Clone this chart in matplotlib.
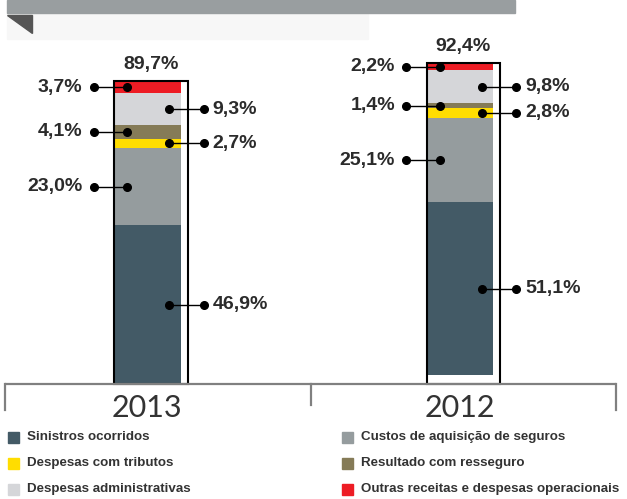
import numpy as np
import matplotlib
matplotlib.use("Agg")
import matplotlib.pyplot as plt
from matplotlib.patches import Rectangle, Polygon

# data (percent of revenue)
years = ["2013", "2012"]
categories = ["Sinistros ocorridos", "Custos de aquisição de seguros", "Despesas com tributos",
              "Resultado com resseguro", "Despesas administrativas",
              "Outras receitas e despesas operacionais"]
vals_2013 = [46.9, 23.0, 2.7, 4.1, 9.3, 3.7]
vals_2012 = [51.1, 25.1, 2.8, 1.4, 9.8, 2.2]
totals = ["89,7%", "92,4%"]

colors = ["#435a66", "#959c9e", "#ffdd00", "#857b57", "#d5d6d9", "#ed1c24"]
sides = ["right", "left", "right", "left", "right", "left"]

W, H = 627, 499
fig = plt.figure(figsize=(W / 100, H / 100), dpi=100)
ax = fig.add_axes([0, 0, 1, 1])
ax.set_axis_off()

# pixel -> data helpers (x: 305.5 px per group, y: 3.38 px per %)
def px(p):
    return (p - 158) / 305.5
def py(p):
    return (384 - p) / 3.38

ax.set_xlim(px(0), px(W))
ax.set_ylim(py(H), py(0))

x_pos = [-0.023, 1.0]
base = [0, 2.6]
frame_w = 0.242
fill_w = 0.216
lab_font = dict(family="Liberation Sans", weight="bold", size=14, color="#2b2b2b")

for i, vals in enumerate([vals_2013, vals_2012]):
    left = x_pos[i] - frame_w / 2
    bottoms = base[i] + np.concatenate([[0], np.cumsum(vals)[:-1]])
    ax.bar(left + 0.003, vals, width=fill_w, bottom=bottoms, align="edge",
           color=colors, linewidth=0, zorder=2)
    top = base[i] + sum(vals)
    ax.bar(x_pos[i], top, width=frame_w, fill=False, edgecolor="black",
           linewidth=1.5, zorder=3)
    ax.text(x_pos[i], top + 3.6, totals[i], ha="center", va="baseline", **lab_font)

    # callouts
    for v, b, side in zip(vals, bottoms, sides):
        y = b + v / 2
        if side == "left":
            x_in, x_out = left + 0.043, left - 0.066
            tx, ha = x_out - 0.037, "right"
        else:
            x_in, x_out = left + 0.18, left + frame_w + 0.052
            tx, ha = x_out + 0.028, "left"
        ax.plot([x_in, x_out], [y, y], color="black", lw=1, zorder=4)
        ax.plot([x_in, x_out], [y, y], "o", color="black", ms=5.5, zorder=5)
        ax.text(tx, y, f"{v:.1f}%".replace(".", ","), ha=ha, va="center", **lab_font)

# bottom axis with group ticks
ax.plot([px(5), px(616)], [0, 0], color="#808080", lw=1.6, zorder=6, solid_capstyle="butt")
for p, d in [(5, 26), (311, 21), (616, 26)]:
    ax.plot([px(p), px(p)], [0, -d / 3.38], color="#808080", lw=1.6, zorder=6)
for i, yr in enumerate(years):
    ax.text(x_pos[i] - 0.013, py(417), yr, ha="center", va="baseline",
            family="Lato", weight="normal", size=22, color="#333333")

# header band and corner triangle
def fx(p):
    return p / W
def fy(p):
    return 1 - p / H
fig.patches.append(Rectangle((fx(7), fy(39)), fx(368) - fx(7), fy(13) - fy(39),
                             transform=fig.transFigure, color="#f7f7f7", zorder=0))
fig.patches.append(Rectangle((fx(7), fy(13)), fx(515) - fx(7), fy(0) - fy(13),
                             transform=fig.transFigure, color="#999ea0", zorder=1))
fig.patches.append(Polygon([(fx(7), fy(15)), (fx(32), fy(15)), (fx(32), fy(33))],
                           closed=True, transform=fig.transFigure, color="#555555", zorder=1))

# legend
leg_order = [0, 2, 4, 1, 3, 5]
rows = [437, 463, 489]
cols = [8, 342]
for k, idx in enumerate(leg_order):
    cx = cols[k // 3]
    ry = rows[k % 3]
    fig.patches.append(Rectangle((fx(cx), fy(ry + 5.5)), fx(11), 11 / H,
                                 transform=fig.transFigure, color=colors[idx]))
    fig.text(fx(cx + 19), fy(ry), categories[idx], ha="left", va="center",
             family="Liberation Sans", weight="bold", size=9.6, color="#333333")

fig.savefig("out.png", dpi=100)
